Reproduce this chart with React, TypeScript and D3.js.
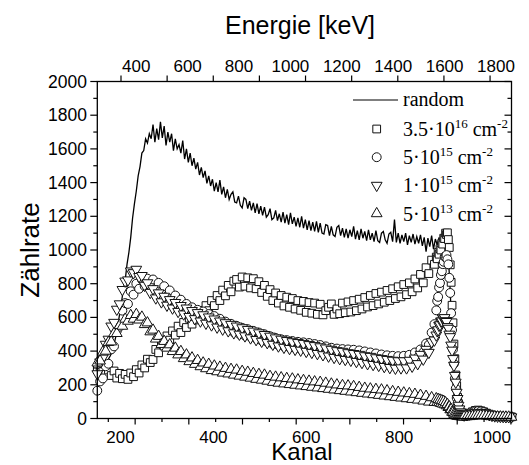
import React from 'react';
import * as d3 from 'd3';

// ---------- channel grids ----------
const MAIN_CH = d3.range(150, 880, 6); // 122 channels
const EDGE_CH = d3.range(880, 940, 2); // 30 channels
const TAIL_CH = d3.range(940, 1044, 6); // 18 channels
const MARKER_CH = [...MAIN_CH, ...EDGE_CH, ...TAIL_CH];
const RANDOM_CH = d3.range(150, 1043, 4); // 224 channels

// ---------- series values (counts) ----------
const RANDOM = [
  300,296,312,318,322,338,352,372,398,440,
  488,552,618,690,762,820,915,985,1075,1190,
  1275,1350,1440,1495,1575,1590,1660,1635,1690,1660,
  1745,1640,1720,1655,1760,1665,1735,1620,1700,1640,
  1690,1590,1660,1600,1625,1575,1650,1540,1600,1520,
  1575,1500,1545,1480,1520,1445,1490,1430,1470,1395,
  1440,1380,1420,1350,1400,1345,1415,1330,1375,1310,
  1360,1300,1330,1345,1285,1280,1320,1265,1250,1310,
  1300,1245,1290,1235,1280,1220,1275,1215,1260,1205,
  1255,1195,1210,1245,1180,1190,1235,1175,1215,1165,
  1225,1160,1210,1150,1220,1155,1195,1140,1190,1135,
  1200,1130,1180,1120,1175,1115,1165,1110,1170,1105,
  1160,1100,1095,1150,1145,1085,1140,1090,1080,1135,
  1145,1085,1130,1075,1125,1070,1120,1080,1140,1065,
  1115,1060,1125,1070,1110,1055,1120,1060,1100,1050,
  1115,1055,1045,1100,1110,1060,1040,1095,1105,1050,
  1180,1045,1100,1040,1090,1050,1100,1030,1085,1045,
  1095,1035,1080,1040,1090,1025,1075,990,1070,1020,
  1085,1005,1065,1030,1075,1020,1060,1040,1050,960,
  760,480,260,130,65,38,28,24,20,26,
  22,30,34,40,44,42,46,40,38,32,
  28,22,20,16,18,14,15,12,13,11,
  12,10,11,10,
];

const SQUARES = [
  300,275,295,262,288,255,282,240,268,236,
  262,232,270,248,290,270,318,300,352,332,
  350,410,390,452,430,490,465,520,495,548,
  510,570,540,595,560,615,585,642,605,670,
  640,700,670,730,700,762,728,790,752,815,
  825,780,840,785,835,775,830,770,812,748,
  790,725,765,700,745,685,730,668,720,660,
  712,650,700,642,695,630,688,625,685,618,
  678,615,640,660,680,618,650,622,685,628,
  692,632,700,640,708,650,718,662,730,670,
  742,680,750,690,760,700,770,712,782,722,
  795,735,805,752,828,775,855,805,895,860,
  940,915,
  958,948,985,975,1008,1000,1040,1035,1070,1068,
  1100,1092,1102,1062,1015,912,808,672,568,442,
  355,258,195,126,88,52,40,28,27,20,
  22,28,32,40,48,50,46,40,32,26,20,16,14,12,12,10,11,10,
];

const CIRCLES = [
  165,220,238,310,325,410,428,520,545,640,
  685,680,755,735,800,770,825,785,830,790,
  825,770,805,750,785,725,760,700,730,675,
  705,650,680,625,660,610,645,595,635,585,
  620,575,608,558,592,545,575,530,562,512,
  550,502,538,492,530,485,520,475,510,462,
  500,455,488,442,478,435,470,428,465,422,
  460,418,455,412,452,410,448,405,442,398,
  436,392,428,382,420,378,415,372,412,370,
  410,368,408,365,404,360,398,355,392,350,
  386,342,380,338,375,335,372,330,370,332,
  372,338,378,345,392,362,410,392,445,438,
  510,560,
  642,698,722,778,804,852,874,916,930,960,
  960,970,945,915,835,745,625,525,410,325,
  236,178,122,90,58,44,30,27,21,20,
  20,24,30,36,42,44,42,38,30,24,18,15,13,12,11,10,10,9,
];

const DOWN_TRI = [
  265,335,360,440,470,548,570,648,680,765,
  815,822,875,865,885,842,848,790,805,748,
  770,715,745,692,725,672,705,655,688,635,
  670,620,655,605,640,592,628,578,615,565,
  602,555,590,542,578,530,568,520,558,508,
  548,500,538,490,528,478,518,468,508,458,
  498,450,488,440,478,430,470,422,462,415,
  455,410,450,405,445,398,438,392,432,385,
  425,378,418,370,410,362,402,355,398,350,
  390,345,385,338,380,332,372,325,368,320,
  360,315,355,308,350,302,345,298,342,300,
  342,300,345,310,358,325,380,352,410,392,
  455,465,
  495,520,526,552,556,578,578,596,590,598,
  580,575,545,535,500,485,435,405,355,315,
  255,215,155,118,78,56,39,31,24,22,
  20,22,26,30,34,36,35,32,27,22,18,15,13,12,11,10,10,9,
];

const UP_TRI = [
  330,342,395,400,452,455,505,505,552,548,
  590,578,612,590,618,585,602,558,568,515,
  525,472,488,440,458,418,438,398,418,378,
  398,356,378,338,360,322,345,308,330,296,
  322,285,312,278,305,270,298,265,292,258,
  288,252,280,246,275,240,268,233,262,228,
  258,222,250,215,246,210,242,206,238,202,
  235,198,230,194,226,190,222,186,218,182,
  215,178,210,174,205,170,200,166,196,162,
  194,158,190,154,185,150,180,146,176,142,
  173,138,170,134,165,130,160,126,156,122,
  152,118,148,114,144,110,138,104,132,98,
  124,96,
  118,96,114,94,110,90,106,86,102,82,
  94,76,84,66,70,52,54,38,36,26,
  22,17,16,13,13,12,12,11,11,10,
  10,11,12,14,16,18,18,17,15,13,12,11,10,10,9,9,9,8,
];

// ---------- axis ticks ----------
const Y_TICKS = d3.range(0, 2001, 100);
const Y_LABELS = d3.range(0, 2001, 200);
const X_LABELS = [200, 400, 600, 800, 1000];
const X_TICKS = d3.range(16).map((i) => 173.7 + 57.8 * i); // channel units
const E_LABELS = [400, 600, 800, 1000, 1200, 1400, 1600, 1800];
const E_TICKS = d3.range(9).map((i) => 340.8 + 179.5 * i); // keV units

const LEGEND = [
  { kind: 'square', base: '3.5·10', exp: '16' },
  { kind: 'circle', base: '5·10', exp: '15' },
  { kind: 'down', base: '1·10', exp: '15' },
  { kind: 'up', base: '5·10', exp: '13' },
];

const SANS = '"Liberation Sans", Arial, Helvetica, sans-serif';
const SERIF = '"Liberation Serif", "Times New Roman", serif';

export default function App() {
  const W = 529;
  const H = 465;
  const L = 97.3, R = 511.5, T = 81.5, B = 418.5;
  const x = d3.scaleLinear().domain([150, 1042]).range([L, R]);
  const y = d3.scaleLinear().domain([0, 2000]).range([B, T]);
  const e = d3.scaleLinear().domain([248.6, 1860.2]).range([L, R]);

  const line = d3
    .line<number>()
    .x((_, i) => x(RANDOM_CH[i]))
    .y((d) => y(d));

  const sym = {
    square: d3.symbol().type(d3.symbolSquare).size(60)() as string,
    circle: d3.symbol().type(d3.symbolCircle).size(62)() as string,
    up: d3.symbol().type(d3.symbolTriangle).size(50)() as string,
    down: d3.symbol().type(d3.symbolTriangle).size(50)() as string,
  };
  const rot = (k: string) => (k === 'down' ? ' rotate(180)' : '');

  const series: { kind: string; vals: number[] }[] = [
    { kind: 'square', vals: SQUARES },
    { kind: 'circle', vals: CIRCLES },
    { kind: 'down', vals: DOWN_TRI },
    { kind: 'up', vals: UP_TRI },
  ];

  const stroke = '#111';

  return (
    <svg
      width={W}
      height={H}
      viewBox={`0 0 ${W} ${H}`}
      style={{ position: 'absolute', left: 0, top: 0, background: 'white' }}
    >
      <rect x={0} y={0} width={W} height={H} fill="white" />
      {/* random spectrum */}
      <path d={line(RANDOM) || ''} fill="none" stroke="#000" strokeWidth={1.3} />
      {/* marker series */}
      {series.map((s) => (
        <g key={s.kind}>
          {s.vals.map((v, i) => (
            <path
              key={i}
              d={sym[s.kind as keyof typeof sym]}
              transform={`translate(${x(MARKER_CH[i])},${y(v)})${rot(s.kind)}`}
              fill="white"
              stroke={stroke}
              strokeWidth={1}
            />
          ))}
        </g>
      ))}

      {/* frame */}
      <rect x={L} y={T} width={R - L} height={B - T} fill="none" stroke="#000" strokeWidth={1.3} />

      {/* left + right axis ticks */}
      {Y_TICKS.map((v) => {
        const major = v % 200 === 0;
        return (
          <g key={'yt' + v}>
            <line x1={L - (major ? 7 : 4)} x2={L} y1={y(v)} y2={y(v)} stroke="#000" strokeWidth={1.2} />
            <line x1={R} x2={R - (major ? 7 : 4)} y1={y(v)} y2={y(v)} stroke="#000" strokeWidth={1.2} />
          </g>
        );
      })}
      {Y_LABELS.map((v) => (
        <text key={'yl' + v} x={87} y={y(v) + 6} textAnchor="end" fontFamily={SANS} fontSize={17.5} fill="#000">
          {v}
        </text>
      ))}

      {/* bottom axis */}
      {X_TICKS.map((c, i) => (
        <line key={'xt' + i} x1={x(c)} x2={x(c)} y1={B} y2={B + (i % 2 === 1 ? 6 : 3.5)} stroke="#000" strokeWidth={1.2} />
      ))}
      {X_LABELS.map((c) => (
        <text key={'xl' + c} x={x(c)} y={443} textAnchor="middle" fontFamily={SANS} fontSize={17} fill="#000">
          {c}
        </text>
      ))}

      {/* top axis */}
      {E_TICKS.map((c, i) => (
        <line key={'et' + i} x1={e(c)} x2={e(c)} y1={T} y2={T - 6} stroke="#000" strokeWidth={1.2} />
      ))}
      {E_LABELS.map((c) => (
        <text key={'el' + c} x={e(c)} y={72} textAnchor="middle" fontFamily={SANS} fontSize={17} fill="#000">
          {c}
        </text>
      ))}

      {/* titles */}
      <text x={300} y={34} textAnchor="middle" fontFamily={SANS} fontSize={25} fill="#000">
        Energie [keV]
      </text>
      <text x={302} y={460} textAnchor="middle" fontFamily={SANS} fontSize={24} fill="#000">
        Kanal
      </text>
      <text
        transform="translate(39,250) rotate(-90)"
        textAnchor="middle"
        fontFamily={SANS}
        fontSize={26}
        fill="#000"
      >
        Zählrate
      </text>

      {/* legend */}
      <line x1={353} x2={398} y1={100} y2={100} stroke="#000" strokeWidth={1.1} />
      <text x={403} y={106} fontFamily={SERIF} fontSize={20} fill="#000">
        random
      </text>
      {LEGEND.map((l, i) => {
        const base = 136 + i * 28.2;
        return (
          <g key={l.kind}>
            <path
              d={sym[l.kind as keyof typeof sym]}
              transform={`translate(376.7,${base - 7})${rot(l.kind)}`}
              fill="white"
              stroke={stroke}
              strokeWidth={1}
            />
            <text x={403} y={base} fontFamily={SERIF} fontSize={20} fill="#000">
              {l.base}
              <tspan dy={-8} fontSize={13}>{l.exp}</tspan>
              <tspan dy={8} fontSize={20}>{' cm'}</tspan>
              <tspan dy={-8} fontSize={13}>-2</tspan>
            </text>
          </g>
        );
      })}
    </svg>
  );
}
